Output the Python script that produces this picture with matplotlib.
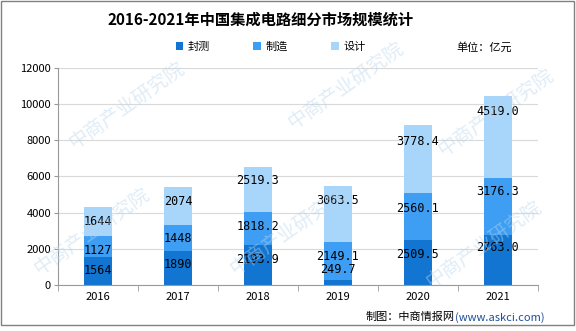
import matplotlib.pyplot as plt
import numpy as np
from matplotlib.patches import Rectangle

plt.rcParams['font.family'] = ['Noto Sans CJK SC', 'DejaVu Sans']

years = ['2016', '2017', '2018', '2019', '2020', '2021']
fengce = [1564, 1890, 2193.9, 249.7, 2509.5, 2763.0]
zhizao = [1127, 1448, 1818.2, 2149.1, 2560.1, 3176.3]
sheji = [1644, 2074, 2519.3, 3063.5, 3778.4, 4519.0]
fengce_lbl = ['1564', '1890', '2193.9', '249.7', '2509.5', '2763.0']
zhizao_lbl = ['1127', '1448', '1818.2', '2149.1', '2560.1', '3176.3']
sheji_lbl = ['1644', '2074', '2519.3', '3063.5', '3778.4', '4519.0']

# label nudges (pixels upward from segment centre), as in the original
fengce_dy = [0, 3, 6, 13, 8, 12]
zhizao_dy = [-4, -1, 2, 5, 8, 15]
sheji_dy = [0, 4, 9, 13, 18, 25]

colors = ['#1175d1', '#3e9ef3', '#a8d5fa']

fig = plt.figure(figsize=(5.76, 3.31), dpi=100)
ax = fig.add_axes([0.1007, 0.139, 0.833, 0.656])

x = np.arange(len(years))
w = 0.35
b1 = np.array(fengce)
b2 = b1 + np.array(zhizao)
ax.bar(x, fengce, w, color=colors[0], label='封测', zorder=2)
ax.bar(x, zhizao, w, bottom=b1, color=colors[1], label='制造', zorder=2)
ax.bar(x, sheji, w, bottom=b2, color=colors[2], label='设计', zorder=2)

lbl_font = dict(family='DejaVu Sans Mono', fontsize=8.5, color='black',
                ha='center', va='center', zorder=5, textcoords='offset points')
for i in range(len(years)):
    segs = [(fengce[i] / 2, fengce_lbl[i], fengce_dy[i]),
            (b1[i] + zhizao[i] / 2, zhizao_lbl[i], zhizao_dy[i]),
            (b2[i] + sheji[i] / 2, sheji_lbl[i], sheji_dy[i])]
    for yc, txt, dy in segs:
        ax.annotate(txt, (x[i], yc), xytext=(0, dy * 0.72), **lbl_font)

ax.set_xlim(-0.5, len(years) - 0.5)
ax.set_ylim(0, 12000)
ax.set_yticks(range(0, 12001, 2000))
ax.tick_params(axis='y', labelsize=8, length=3, color='#999999', pad=2)
ax.set_xticks(x)
ax.set_xticklabels(years, fontsize=8)
ax.tick_params(axis='x', length=0, pad=5)
# Excel style ticks between categories
ax.set_xticks(np.arange(-0.5, len(years), 1), minor=True)
ax.tick_params(axis='x', which='minor', length=4, color='#999999')
ax.grid(axis='y', color='#d9d9d9', linewidth=0.8, zorder=0)
for s in ['top', 'right']:
    ax.spines[s].set_visible(False)
ax.spines['left'].set_color('#999999')
ax.spines['bottom'].set_color('#999999')

# watermark
wm_pos = [(0.22, 0.68), (0.60, 0.74), (0.86, 0.66), (0.16, 0.30), (0.50, 0.30),
          (0.84, 0.26)]
for px, py in wm_pos:
    fig.text(px, py, '中商产业研究院', fontsize=14, color='#b8d6ee', alpha=0.45,
             rotation=35, ha='center', va='center', zorder=3)

fig.text(0.453, 0.94, '2016-2021年中国集成电路细分市场规模统计',
         fontsize=11, fontweight='bold', ha='center', va='center')

handles, labels = ax.get_legend_handles_labels()
fig.legend(handles, labels, loc='center', bbox_to_anchor=(0.47, 0.858), ncol=3,
           frameon=False, fontsize=8, handlelength=0.7, handleheight=0.7,
           handletextpad=0.4, columnspacing=3.9)
fig.text(0.84, 0.858, '单位：亿元', fontsize=8, ha='center', va='center')

fig.text(0.79, 0.042, '制图：中商情报网', fontsize=8, ha='right', va='center')
fig.text(0.79, 0.042, '(www.askci.com)', fontsize=8, color='#1f4e9a',
         ha='left', va='center')

fig.add_artist(Rectangle((0.002, 0.018), 0.995, 0.978, transform=fig.transFigure,
                         fill=False, edgecolor='#808080', linewidth=1))

fig.savefig('out.png', dpi=100)
